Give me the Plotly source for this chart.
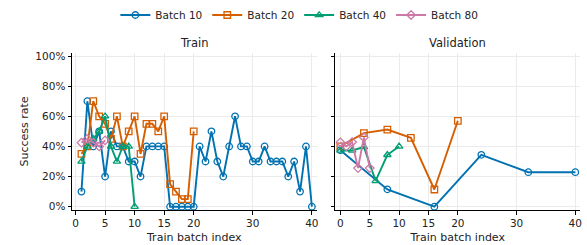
import plotly.graph_objects as go
from plotly.subplots import make_subplots

# ---- data ----
train_x10 = list(range(1, 41))
train_y10 = [10, 70, 40, 50, 20, 50, 40, 40, 30, 30, 20, 40, 40, 40, 40, 0, 0, 0, 0, 0,
             40, 30, 50, 30, 20, 40, 60, 40, 40, 30, 30, 40, 30, 30, 30, 20, 30, 10, 40, 0]
train_x20 = list(range(1, 21))
train_y20 = [35, 40, 70, 60, 55, 45, 60, 40, 50, 60, 35, 55, 55, 50, 60, 15, 10, 5, 5, 50]
train_x40 = list(range(1, 11))
train_y40 = [30, 40, 45, 50, 60, 40, 30, 40, 40, 0]
train_x80 = [1, 2, 3, 4, 5]
train_y80 = [42.5, 45, 42.5, 40, 44]

val_x10 = [0, 8, 16, 24, 32, 40]
val_y10 = [37.5, 11.5, 0, 34.4, 22.9, 22.9]
val_x20 = [0, 4, 8, 12, 16, 20]
val_y20 = [40, 48.8, 51.2, 45.7, 11.4, 57]
val_x40 = [0, 2, 4, 6, 8, 10]
val_y40 = [37.3, 37.3, 39.6, 17.1, 34.4, 40]
val_x80 = [0, 1, 2, 3, 4, 5]
val_y80 = [42.7, 40, 42.9, 25.6, 46, 25.6]

names = ["Batch 10", "Batch 20", "Batch 40", "Batch 80"]
colors = ["#0072B2", "#D55E00", "#009E73", "#CC79A7"]
symbols = ["circle-open", "square-open", "triangle-up-open", "diamond-open"]
x_ticks = [0, 5, 10, 15, 20, 30, 40]
y_ticks = [0, 20, 40, 60, 80, 100]
y_tick_text = ["0%", "20%", "40%", "60%", "80%", "100%"]

train = [(train_x10, train_y10), (train_x20, train_y20), (train_x40, train_y40), (train_x80, train_y80)]
val = [(val_x10, val_y10), (val_x20, val_y20), (val_x40, val_y40), (val_x80, val_y80)]

fig = make_subplots(rows=1, cols=2, shared_yaxes=False, horizontal_spacing=0.037,
                    subplot_titles=("Train", "Validation"))

for i in range(4):
    for col, data in ((1, train), (2, val)):
        xs, ys = data[i]
        fig.add_trace(go.Scatter(
            x=xs, y=[v / 100 for v in ys], mode="lines+markers", name=names[i],
            legendgroup=names[i], showlegend=(col == 1),
            line=dict(color=colors[i], width=1.9),
            marker=dict(symbol=symbols[i], size=6.5, color=colors[i],
                        line=dict(width=1.3, color=colors[i])),
        ), row=1, col=col)

axis_common = dict(showline=True, linecolor="black", linewidth=1, ticks="outside",
                   ticklen=3.5, tickwidth=1, tickcolor="black", showgrid=True,
                   gridcolor="#ebebeb", gridwidth=0.8, zeroline=False, mirror=False,
                   automargin=False, tickfont=dict(size=10.5, color="#222"))

fig.update_xaxes(**axis_common, tickvals=x_ticks, title_text="Train batch index",
                 title_font=dict(size=11, color="#222"), title_standoff=5)
fig.update_xaxes(range=[-0.6, 40.8], row=1, col=1)
fig.update_xaxes(range=[-0.85, 40.8], row=1, col=2)
fig.update_yaxes(**axis_common, range=[-0.022, 1.02], tickvals=[v / 100 for v in y_ticks],
                 ticktext=y_tick_text)
fig.update_yaxes(title_text="Success rate", title_font=dict(size=11, color="#222"),
                 title_standoff=4, row=1, col=1)
fig.update_yaxes(showticklabels=False, row=1, col=2)

for ann in fig.layout.annotations:
    ann.font = dict(size=11.5, color="#222")
    ann.yshift = 1

fig.update_layout(
    width=587, height=245,
    margin=dict(l=72, r=7, t=53, b=35, autoexpand=False),
    paper_bgcolor="white", plot_bgcolor="white",
    font=dict(family="DejaVu Sans", color="#222"),
    legend=dict(orientation="h", x=0.51, xref="container", xanchor="center",
                y=1 - 15 / 245, yref="container", yanchor="middle",
                font=dict(size=10.5), itemwidth=30, tracegroupgap=0),
)

fig.write_html("out.html", config={"displayModeBar": False},
               post_script="document.body.style.margin='0';")
